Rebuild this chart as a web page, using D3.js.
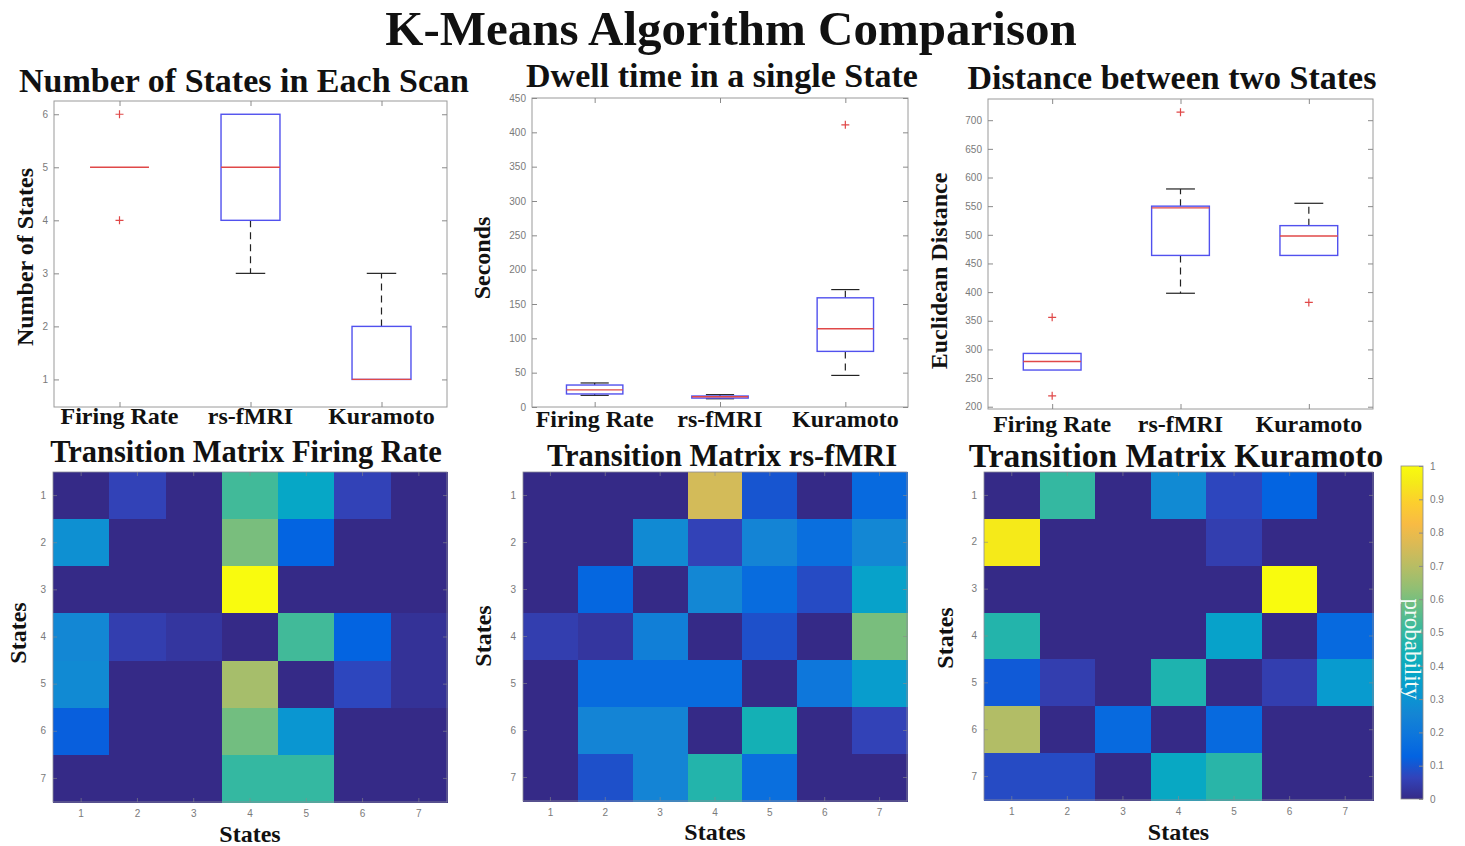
<!DOCTYPE html>
<html>
<head>
<meta charset="utf-8">
<script src="https://cdn.jsdelivr.net/npm/d3@7"></script>
<style>
    body { margin: 0; background: #fff; }
    svg { display: block; }
    .tick text { fill: #7a7a7a; font-family: "Liberation Sans", Arial, sans-serif; font-size: 10px; }
    .tick line { stroke: #8a8a8a; }
    .serif { font-family: "Liberation Serif", "Times New Roman", serif; font-weight: bold; fill: #111; }
</style>
</head>
<body>
<div id="figure"></div>
<script>
const methods = ["Firing Rate", "rs-fMRI", "Kuramoto"];
const stateLabels = [1, 2, 3, 4, 5, 6, 7];

// box stats per method: [lower whisker, q1, median, q3, upper whisker]
const numStatesBoxes = [[5, 5, 5, 5, 5], [3, 4, 5, 6, 6], [1, 1, 1, 2, 3]];
const numStatesOutliers = [[6, 4], [], []];
const numStatesTicks = [1, 2, 3, 4, 5, 6];

const dwellBoxes = [[17, 19, 25, 32, 35], [12, 13, 15, 16, 18], [46, 81, 114, 159, 171]];
const dwellOutliers = [[], [], [411]];
const dwellTicks = [0, 50, 100, 150, 200, 250, 300, 350, 400, 450];

const distanceBoxes = [[264, 264, 279, 293, 293], [398, 464, 547, 550, 580], [464, 464, 498, 516, 555]];
const distanceOutliers = [[356, 219], [714], [382]];
const distanceTicks = [200, 250, 300, 350, 400, 450, 500, 550, 600, 650, 700];

// transition probabilities, row = from state, col = to state
const firingRateMatrix = [
    [0, 0.06, 0, 0.52, 0.38, 0.06, 0],
    [0.29, 0, 0, 0.6, 0.13, 0, 0],
    [0, 0, 0, 1, 0, 0, 0],
    [0.26, 0.05, 0.03, 0, 0.52, 0.13, 0.02],
    [0.27, 0, 0, 0.67, 0, 0.07, 0.02],
    [0.12, 0, 0, 0.59, 0.31, 0, 0],
    [0, 0, 0, 0.5, 0.5, 0, 0]
];
const rsfmriMatrix = [
    [0, 0, 0, 0.75, 0.1, 0, 0.15],
    [0, 0, 0.27, 0.06, 0.25, 0.17, 0.26],
    [0, 0.14, 0, 0.26, 0.16, 0.08, 0.36],
    [0.05, 0.03, 0.23, 0, 0.09, 0, 0.6],
    [0, 0.16, 0.16, 0.16, 0, 0.2, 0.34],
    [0, 0.25, 0.25, 0, 0.44, 0, 0.06],
    [0, 0.09, 0.25, 0.47, 0.17, 0, 0]
];
const kuramotoMatrix = [
    [0, 0.5, 0, 0.27, 0.07, 0.13, 0],
    [0.95, 0, 0, 0, 0.05, 0, 0],
    [0, 0, 0, 0, 0, 1, 0],
    [0.47, 0, 0, 0, 0.36, 0, 0.15],
    [0.11, 0.05, 0, 0.46, 0, 0.05, 0.33],
    [0.69, 0, 0.15, 0, 0.15, 0, 0],
    [0.08, 0.08, 0, 0.39, 0.48, 0, 0]
];
const colorbarTicks = [0, 0.1, 0.2, 0.3, 0.4, 0.5, 0.6, 0.7, 0.8, 0.9, 1];

// MATLAB parula(64), every 4th entry
const parulaIndex = [0, 4, 8, 12, 16, 20, 24, 28, 32, 36, 40, 44, 48, 52, 56, 60, 63];
const parulaStops = [
    "#352a87", "#3243ba", "#0363e1", "#0d75dc", "#1485d4", "#0998d1", "#06a7c6", "#15b1b4",
    "#38b99e", "#65be86", "#92bf73", "#b7bd64", "#d9ba56", "#f8bb44", "#fcce2e", "#f5eb18", "#f9fb0e"
];
const parula = d3
    .scaleLinear()
    .domain(parulaIndex.map(i => i / 63))
    .range(parulaStops)
    .clamp(true);

const svg = d3
    .select("#figure")
    .append("svg")
    .attr("width", 1465)
    .attr("height", 846);

//main title
svg.append("text")
    .attr("class", "serif")
    .attr("x", 731)
    .attr("y", 45)
    .attr("text-anchor", "middle")
    .style("font-size", "49px")
    .text("K-Means Algorithm Comparison");

drawBoxPanel({
    left: 54, right: 447, top: 101, bottom: 407,
    domain: [0.48, 6.25], ticks: numStatesTicks,
    boxes: numStatesBoxes, outliers: numStatesOutliers,
    title: "Number of States in Each Scan", titleX: 244, titleY: 92,
    ylabel: "Number of States", ylabelX: 25, ylabelY: 257, labelY: 424
});
drawBoxPanel({
    left: 532, right: 908, top: 98, bottom: 407,
    domain: [0, 450], ticks: dwellTicks,
    boxes: dwellBoxes, outliers: dwellOutliers,
    title: "Dwell time in a single State", titleX: 722, titleY: 87,
    ylabel: "Seconds", ylabelX: 482, ylabelY: 258, labelY: 427
});
drawBoxPanel({
    left: 988, right: 1373, top: 99, bottom: 409,
    domain: [196, 737], ticks: distanceTicks,
    boxes: distanceBoxes, outliers: distanceOutliers,
    title: "Distance between two States", titleX: 1172, titleY: 89,
    ylabel: "Euclidean Distance", ylabelX: 939, ylabelY: 271, labelY: 432
});

drawHeatmap({
    left: 53, right: 447, top: 472, bottom: 802, matrix: firingRateMatrix,
    title: "Transition Matrix Firing Rate", titleX: 246, titleY: 462, titleSize: 30.5,
    ylabelX: 18, ylabelY: 633, xlabelY: 842
});
drawHeatmap({
    left: 523, right: 907, top: 472, bottom: 801, matrix: rsfmriMatrix,
    title: "Transition Matrix rs-fMRI", titleX: 722, titleY: 466, titleSize: 30.5,
    ylabelX: 483, ylabelY: 636, xlabelY: 840
});
drawHeatmap({
    left: 984, right: 1373, top: 472, bottom: 800, matrix: kuramotoMatrix,
    title: "Transition Matrix Kuramoto", titleX: 1176, titleY: 467, titleSize: 33.5,
    ylabelX: 945, ylabelY: 638, xlabelY: 840
});

drawColorbar({ left: 1401, right: 1423, top: 466, bottom: 799 });

function drawBoxPanel(cfg) {
    const { left, right, top, bottom } = cfg;
    const g = svg.append("g");

    const x = d3.scalePoint().domain(methods).range([left, right]).padding(0.5);
    const y = d3.scaleLinear().domain(cfg.domain).range([bottom, top]);
    const boxW = x.step() * 0.45;

    //frame + ticks on all four sides, pointing in
    g.append("rect")
        .attr("x", left).attr("y", top)
        .attr("width", right - left).attr("height", bottom - top)
        .attr("fill", "none")
        .attr("stroke", "#9a9a9a");

    g.append("g")
        .attr("transform", `translate(${left},0)`)
        .call(d3.axisLeft(y).tickValues(cfg.ticks).tickSize(-5).tickPadding(6).tickFormat(d => d))
        .call(a => a.select(".domain").remove());
    g.append("g")
        .attr("transform", `translate(${right},0)`)
        .call(d3.axisRight(y).tickValues(cfg.ticks).tickSize(-5).tickFormat(""))
        .call(a => a.select(".domain").remove());
    g.append("g")
        .attr("transform", `translate(0,${bottom})`)
        .call(d3.axisBottom(x).tickSize(-5).tickFormat(""))
        .call(a => a.select(".domain").remove());
    g.append("g")
        .attr("transform", `translate(0,${top})`)
        .call(d3.axisTop(x).tickSize(-5).tickFormat(""))
        .call(a => a.select(".domain").remove());

    //boxes
    cfg.boxes.forEach((b, i) => {
        const [lo, q1, med, q3, hi] = b;
        const cx = x(methods[i]);
        const whiskers = [[q3, hi], [q1, lo]];
        whiskers.forEach(([from, to]) => {
            if (from === to) return;
            g.append("line")
                .attr("x1", cx).attr("x2", cx)
                .attr("y1", y(from)).attr("y2", y(to))
                .attr("stroke", "#222")
                .attr("stroke-width", 1.2)
                .attr("stroke-dasharray", "7,5");
            g.append("line")
                .attr("x1", cx - boxW / 4).attr("x2", cx + boxW / 4)
                .attr("y1", y(to)).attr("y2", y(to))
                .attr("stroke", "#222")
                .attr("stroke-width", 1.2);
        });
        if (q3 > q1) {
            g.append("rect")
                .attr("x", cx - boxW / 2)
                .attr("y", y(q3))
                .attr("width", boxW)
                .attr("height", y(q1) - y(q3))
                .attr("fill", "none")
                .attr("stroke", "#5151ee")
                .attr("stroke-width", 1.4);
        }
        g.append("line")
            .attr("x1", cx - boxW / 2).attr("x2", cx + boxW / 2)
            .attr("y1", y(med)).attr("y2", y(med))
            .attr("stroke", "#e04848")
            .attr("stroke-width", 1.4);

        cfg.outliers[i].forEach(v => {
            g.append("path")
                .attr("d", `M${cx - 4},${y(v)}h8M${cx},${y(v) - 4}v8`)
                .attr("stroke", "#e04848")
                .attr("stroke-width", 1.2);
        });
    });

    //category labels
    g.selectAll(".cat")
        .data(methods)
        .enter()
        .append("text")
        .attr("class", "serif")
        .attr("x", d => x(d))
        .attr("y", cfg.labelY)
        .attr("text-anchor", "middle")
        .style("font-size", "24px")
        .text(d => d);

    //title
    g.append("text")
        .attr("class", "serif")
        .attr("x", cfg.titleX)
        .attr("y", cfg.titleY)
        .attr("text-anchor", "middle")
        .style("font-size", "34px")
        .text(cfg.title);

    //y label
    g.append("text")
        .attr("class", "serif")
        .attr("transform", `translate(${cfg.ylabelX},${cfg.ylabelY}) rotate(-90)`)
        .attr("text-anchor", "middle")
        .attr("dominant-baseline", "central")
        .style("font-size", "24px")
        .text(cfg.ylabel);
}

function drawHeatmap(cfg) {
    const { left, right, top, bottom } = cfg;
    const g = svg.append("g");

    const x = d3.scaleBand().domain(stateLabels).range([left, right]);
    const y = d3.scaleBand().domain(stateLabels).range([top, bottom]);

    const cells = cfg.matrix.flatMap((row, i) =>
        row.map((v, j) => ({ from: stateLabels[i], to: stateLabels[j], v }))
    );

    g.selectAll("rect")
        .data(cells)
        .enter()
        .append("rect")
        .attr("x", d => x(d.to))
        .attr("y", d => y(d.from))
        .attr("width", x.bandwidth() + 0.6)
        .attr("height", y.bandwidth() + 0.6)
        .attr("shape-rendering", "crispEdges")
        .attr("fill", d => parula(d.v));

    g.append("rect")
        .attr("x", left).attr("y", top)
        .attr("width", right - left).attr("height", bottom - top)
        .attr("fill", "none")
        .attr("stroke", "#8a8a9a")
        .attr("stroke-width", 0.8);

    const tickFix = a => {
        a.select(".domain").remove();
        a.selectAll(".tick line").attr("stroke", "#1a1a40").attr("stroke-opacity", 0.6);
    };
    g.append("g")
        .attr("transform", `translate(${left},0)`)
        .call(d3.axisLeft(y).tickSize(-4).tickPadding(7))
        .call(tickFix);
    g.append("g")
        .attr("transform", `translate(0,${bottom})`)
        .call(d3.axisBottom(x).tickSize(-4).tickPadding(8))
        .call(tickFix);
    g.append("g")
        .attr("transform", `translate(${right},0)`)
        .call(d3.axisRight(y).tickSize(-4).tickFormat(""))
        .call(tickFix);
    g.append("g")
        .attr("transform", `translate(0,${top})`)
        .call(d3.axisTop(x).tickSize(-4).tickFormat(""))
        .call(tickFix);

    //title
    g.append("text")
        .attr("class", "serif")
        .attr("x", cfg.titleX)
        .attr("y", cfg.titleY)
        .attr("text-anchor", "middle")
        .style("font-size", cfg.titleSize + "px")
        .text(cfg.title);

    //axis labels
    g.append("text")
        .attr("class", "serif")
        .attr("x", (left + right) / 2)
        .attr("y", cfg.xlabelY)
        .attr("text-anchor", "middle")
        .style("font-size", "24px")
        .text("States");
    g.append("text")
        .attr("class", "serif")
        .attr("transform", `translate(${cfg.ylabelX},${cfg.ylabelY}) rotate(-90)`)
        .attr("text-anchor", "middle")
        .attr("dominant-baseline", "central")
        .style("font-size", "24px")
        .text("States");
}

function drawColorbar({ left, right, top, bottom }) {
    const g = svg.append("g");
    const scale = d3.scaleLinear().domain([0, 1]).range([bottom, top]);

    const grad = svg.append("defs")
        .append("linearGradient")
        .attr("id", "parula-grad")
        .attr("x1", 0).attr("y1", 1)
        .attr("x2", 0).attr("y2", 0);
    grad.selectAll("stop")
        .data(parulaStops)
        .enter()
        .append("stop")
        .attr("offset", (d, i) => parulaIndex[i] / 63)
        .attr("stop-color", d => d);

    g.append("rect")
        .attr("x", left).attr("y", top)
        .attr("width", right - left).attr("height", bottom - top)
        .attr("fill", "url(#parula-grad)")
        .attr("stroke", "#8a8a8a")
        .attr("stroke-width", 0.8);

    g.append("g")
        .attr("transform", `translate(${right},0)`)
        .call(d3.axisRight(scale).tickValues(colorbarTicks).tickSize(-4).tickPadding(7).tickFormat(d => d))
        .call(a => a.select(".domain").remove());

    g.append("text")
        .attr("transform", `translate(${(left + right) / 2},${649}) rotate(90)`)
        .attr("text-anchor", "middle")
        .attr("dominant-baseline", "central")
        .style("font-family", "'Liberation Serif', 'Times New Roman', serif")
        .style("font-size", "23px")
        .attr("fill", "#f2faf6")
        .text("probability");
}
</script>
</body>
</html>
